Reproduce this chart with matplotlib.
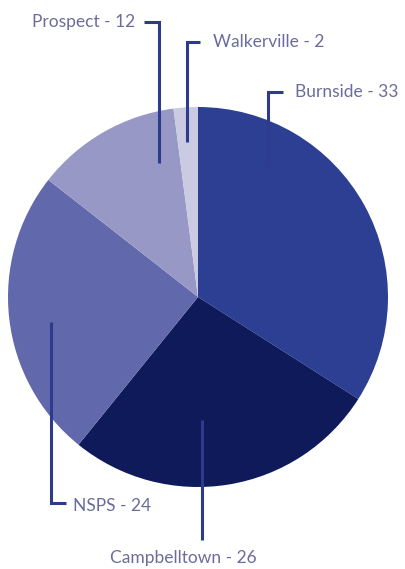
import matplotlib
matplotlib.use("Agg")
import matplotlib.pyplot as plt

regions = ["Burnside", "Campbelltown", "NSPS", "Prospect", "Walkerville"]
counts = [33, 26, 24, 12, 2]
colors = ["#2c3f93", "#0f1a5b", "#6168ab", "#9898c6", "#cacae2"]

W, H = 405, 569
fig = plt.figure(figsize=(W / 100, H / 100), dpi=100)
ax = fig.add_axes([0, 0, 1, 1])

cx, cy, r = 198, H - 297, 190
ax.pie(counts, colors=colors, startangle=90, counterclock=False,
       center=(cx, cy), radius=r, frame=True,
       wedgeprops=dict(linewidth=0))
ax.set_xlim(0, W)
ax.set_ylim(0, H)
ax.set_aspect("equal")
ax.axis("off")

line_col = "#2e3b8c"
text_col = "#6c6c9c"
font = dict(family="Lato", fontsize=12.5, color=text_col)

def leader(pts):
    xs = [p[0] for p in pts]
    ys = [H - p[1] for p in pts]
    ax.plot(xs, ys, color=line_col, lw=2.2, solid_capstyle="butt",
            solid_joinstyle="miter")

labels = [f"{n} - {v}" for n, v in zip(regions, counts)]

# Burnside
leader([(283, 92), (268, 92), (268, 166)])
ax.text(295, H - 92, labels[0], ha="left", va="center", **font)
# Campbelltown
leader([(202, 420), (202, 540)])
ax.text(183, H - 558, labels[1], ha="center", va="center", **font)
# NSPS
leader([(51, 322), (51, 503), (66, 503)])
ax.text(73, H - 506, labels[2], ha="left", va="center", **font)
# Prospect
leader([(144, 22), (159, 22), (159, 163)])
ax.text(135, H - 22, labels[3], ha="right", va="center", **font)
# Walkerville
leader([(200, 42), (187, 42), (187, 142)])
ax.text(213, H - 42, labels[4], ha="left", va="center", **font)

fig.savefig("out.png", dpi=100)
